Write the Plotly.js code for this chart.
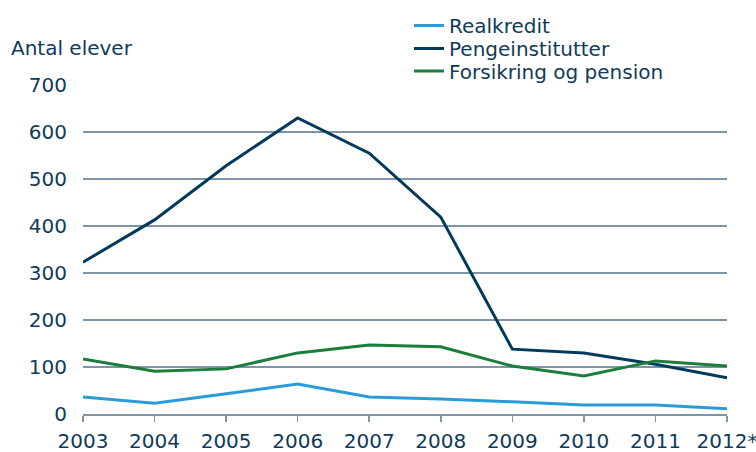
<!DOCTYPE html>
<html>
<head>
<meta charset="utf-8">
<script src="https://cdn.plot.ly/plotly-3.0.1.min.js"></script>
<style>html,body{margin:0;padding:0;background:#fff;}#chart{width:756px;height:452px;}</style>
</head>
<body>
<div id="chart"></div>
<script>
var years = [2003, 2004, 2005, 2006, 2007, 2008, 2009, 2010, 2011, 2012];
var yearLabels = ["2003", "2004", "2005", "2006", "2007", "2008", "2009", "2010", "2011", "2012*"];
var realkredit = [36, 23, 43, 64, 36, 32, 26, 19, 19, 11];
var pengeinstitutter = [323, 413, 528, 630, 555, 419, 138, 130, 106, 77];
var forsikring = [117, 91, 96, 130, 147, 143, 102, 81, 113, 102];
var yTicks = [0, 100, 200, 300, 400, 500, 600, 700];

var textColor = "#0f3b5a";
var gridColor = "#7d95a6";
var font = {family: "DejaVu Sans, Verdana, sans-serif", size: 20, color: textColor};

var traces = [
  {x: years, y: realkredit, name: "Realkredit", type: "scatter", mode: "lines",
   line: {color: "#2b9bd8", width: 3}, legend: "legend"},
  {x: years, y: pengeinstitutter, name: "Pengeinstitutter", type: "scatter", mode: "lines",
   line: {color: "#033a5c", width: 3}, legend: "legend2"},
  {x: years, y: forsikring, name: "Forsikring og pension", type: "scatter", mode: "lines",
   line: {color: "#1b7e3c", width: 3}, legend: "legend3"}
];

var plotTop = 85, plotH = 329, plotL = 83, plotW = 644;
function py(p) { return 1 + (plotTop - p) / plotH; }
function lg(p) {
  return {x: (409 - plotL) / plotW, xanchor: "left", y: py(p), yanchor: "middle",
          font: font, bgcolor: "rgba(0,0,0,0)", borderwidth: 0};
}

var layout = {
  width: 756, height: 452,
  margin: {l: 83, r: 29, t: 85, b: 38, autoexpand: false},
  paper_bgcolor: "#fff", plot_bgcolor: "#fff",
  font: font,
  showlegend: true,
  legend: lg(25.5),
  legend2: lg(48.5),
  legend3: lg(71),
  xaxis: {
    range: [2003, 2012], tickvals: years, ticktext: yearLabels,
    showgrid: false, zeroline: false, showline: true, linecolor: gridColor, linewidth: 2,
    ticks: "outside", ticklen: 6, tickcolor: gridColor, tickwidth: 1.5,
    tickfont: font, ticklabelstandoff: 2, ticklabeloverflow: "allow", automargin: false,
    fixedrange: true
  },
  yaxis: {
    range: [0, 700], tickvals: yTicks, showgrid: true, gridcolor: gridColor, gridwidth: 1.5,
    zeroline: false, showline: false, ticks: "", tickfont: font, ticklabelstandoff: 15,
    automargin: false, fixedrange: true
  },
  annotations: [{
    text: "Antal elever", xref: "paper", yref: "paper", x: (9 - plotL) / plotW, y: py(48),
    xanchor: "left", yanchor: "middle", showarrow: false, font: font
  }]
};

Plotly.newPlot("chart", traces, layout, {displayModeBar: false, staticPlot: true});
</script>
</body>
</html>
